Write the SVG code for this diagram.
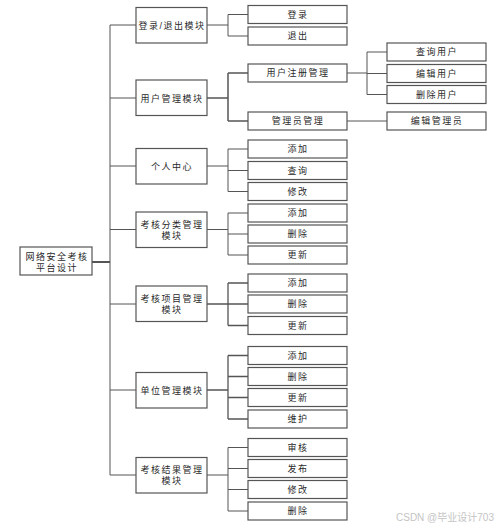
<svg xmlns="http://www.w3.org/2000/svg" width="494" height="529" viewBox="0 0 494 529">
<style>
.b{fill:#fff;stroke:#555;stroke-width:1.2}
.t{font-family:"Liberation Sans","Noto Sans CJK SC",sans-serif;font-size:9px;fill:#2a2a2a;text-anchor:middle;letter-spacing:1.5px}
.c{fill:none;stroke:#555;stroke-width:1}
.w{font-family:"Liberation Sans","Noto Sans CJK SC",sans-serif;font-size:10px;fill:#c4c4c4}
</style>
<rect width="494" height="529" fill="#fff"/>
<g id="connectors" class="c">
<path d="M92 262H110" stroke-width="2"/>
<path d="M110 25V475"/>
<path d="M110 25H136M110 98H136M110 166H136M110 229.5H136M110 304H136M110 390H136M110 475H136"/>
<path d="M207 25H228M228 14.5V36M228 14.5H248M228 36H248"/>
<path d="M207 98H228M228 73V121M228 73H248M228 121H248" stroke-width="1.5"/>
<path d="M347 73H367M367 52V94.5M367 52H387M367 73.5H387M367 94.5H387"/>
<path d="M347 121H387"/>
<path d="M207 166H228M228 149V191.5M228 149H248M228 170.5H248M228 191.5H248"/>
<path d="M207 229.5H228M228 213V255M228 213H248M228 234H248M228 255H248"/>
<path d="M207 304H228M228 283V325.5M228 283H248M228 304H248M228 325.5H248" stroke-width="1.3"/>
<path d="M207 390H228M228 355.5V419M228 355.5H248M228 376.5H248M228 397.5H248M228 419H248" stroke-width="1.3"/>
<path d="M207 475H228M228 447.5V511M228 447.5H248M228 468.5H248M228 489.5H248M228 511H248"/>
</g>
<g id="root"><rect class="b" x="20" y="247" width="72" height="28"/><text class="t" x="57" y="259.5">网络安全考核</text><text class="t" x="57" y="271">平台设计</text></g>
<g id="m1"><rect class="b" x="136" y="7.5" width="71" height="35.5"/><text class="t" x="172" y="28.5">登录/退出模块</text></g>
<g id="m2"><rect class="b" x="136" y="80" width="71" height="35.5"/><text class="t" x="172" y="101.5">用户管理模块</text></g>
<g id="m3"><rect class="b" x="136" y="148.5" width="71" height="35.5"/><text class="t" x="172" y="169.5">个人中心</text></g>
<g id="m4"><rect class="b" x="136" y="212" width="71" height="35.5"/><text class="t" x="172" y="227.5">考核分类管理</text><text class="t" x="172" y="238.5">模块</text></g>
<g id="m5"><rect class="b" x="136" y="286" width="71" height="35.5"/><text class="t" x="172" y="301.5">考核项目管理</text><text class="t" x="172" y="312.5">模块</text></g>
<g id="m6"><rect class="b" x="136" y="372.5" width="71" height="35.5"/><text class="t" x="172" y="393.5">单位管理模块</text></g>
<g id="m7"><rect class="b" x="136" y="457.5" width="71" height="35.5"/><text class="t" x="172" y="473">考核结果管理</text><text class="t" x="172" y="484">模块</text></g>
<g id="l1"><rect class="b" x="248" y="5.5" width="99" height="18"/><text class="t" x="298" y="17.5">登录</text></g>
<g id="l2"><rect class="b" x="248" y="27" width="99" height="18"/><text class="t" x="298" y="39">退出</text></g>
<g id="l3"><rect class="b" x="248" y="64" width="99" height="18"/><text class="t" x="298" y="76">用户注册管理</text></g>
<g id="l4"><rect class="b" x="248" y="112" width="99" height="18"/><text class="t" x="298" y="124">管理员管理</text></g>
<g id="u1"><rect class="b" x="387" y="43" width="99" height="18"/><text class="t" x="437" y="55">查询用户</text></g>
<g id="u2"><rect class="b" x="387" y="64.5" width="99" height="18"/><text class="t" x="437" y="76.5">编辑用户</text></g>
<g id="u3"><rect class="b" x="387" y="85.5" width="99" height="18"/><text class="t" x="437" y="97.5">删除用户</text></g>
<g id="u4"><rect class="b" x="387" y="112" width="99" height="18"/><text class="t" x="437" y="124">编辑管理员</text></g>
<g id="p1"><rect class="b" x="248" y="140" width="99" height="18"/><text class="t" x="298" y="152">添加</text></g>
<g id="p2"><rect class="b" x="248" y="161.5" width="99" height="18"/><text class="t" x="298" y="173.5">查询</text></g>
<g id="p3"><rect class="b" x="248" y="182.5" width="99" height="18"/><text class="t" x="298" y="194.5">修改</text></g>
<g id="c1"><rect class="b" x="248" y="204" width="99" height="18"/><text class="t" x="298" y="216">添加</text></g>
<g id="c2"><rect class="b" x="248" y="225" width="99" height="18"/><text class="t" x="298" y="237">删除</text></g>
<g id="c3"><rect class="b" x="248" y="246" width="99" height="18"/><text class="t" x="298" y="258">更新</text></g>
<g id="i1"><rect class="b" x="248" y="274" width="99" height="18"/><text class="t" x="298" y="286">添加</text></g>
<g id="i2"><rect class="b" x="248" y="295" width="99" height="18"/><text class="t" x="298" y="307">删除</text></g>
<g id="i3"><rect class="b" x="248" y="316.5" width="99" height="18"/><text class="t" x="298" y="328.5">更新</text></g>
<g id="d1"><rect class="b" x="248" y="346.5" width="99" height="18"/><text class="t" x="298" y="358.5">添加</text></g>
<g id="d2"><rect class="b" x="248" y="367.5" width="99" height="18"/><text class="t" x="298" y="379.5">删除</text></g>
<g id="d3"><rect class="b" x="248" y="388.5" width="99" height="18"/><text class="t" x="298" y="400.5">更新</text></g>
<g id="d4"><rect class="b" x="248" y="410" width="99" height="18"/><text class="t" x="298" y="422">维护</text></g>
<g id="r1"><rect class="b" x="248" y="438.5" width="99" height="18"/><text class="t" x="298" y="450.5">审核</text></g>
<g id="r2"><rect class="b" x="248" y="459.5" width="99" height="18"/><text class="t" x="298" y="471.5">发布</text></g>
<g id="r3"><rect class="b" x="248" y="480.5" width="99" height="18"/><text class="t" x="298" y="492.5">修改</text></g>
<g id="r4"><rect class="b" x="248" y="502" width="99" height="18"/><text class="t" x="298" y="514">删除</text></g>
<text class="w" x="396" y="521">CSDN @毕业设计703</text>
</svg>
